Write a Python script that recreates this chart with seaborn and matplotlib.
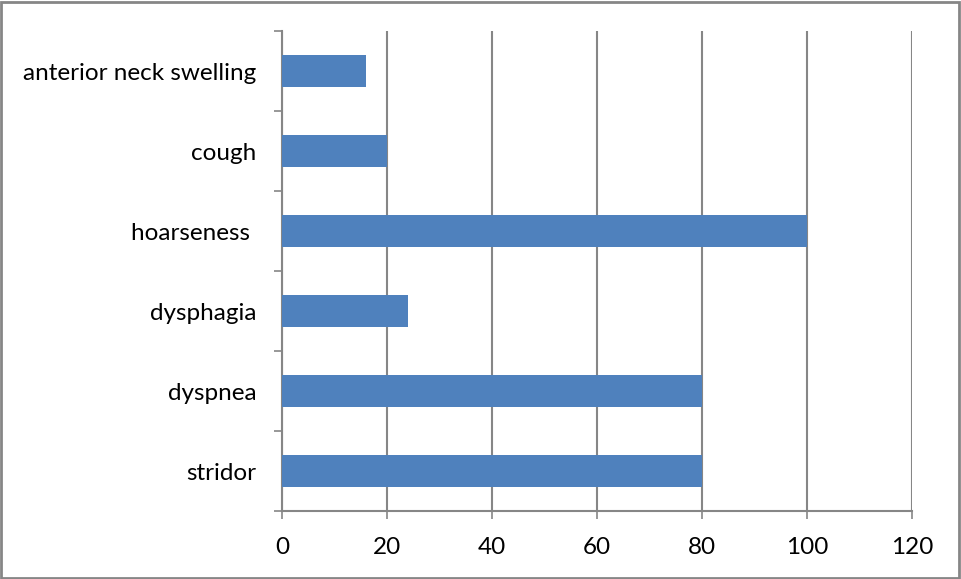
import matplotlib
matplotlib.use("Agg")
import matplotlib.pyplot as plt
import seaborn as sns
import pandas as pd
from matplotlib.patches import Rectangle

symptoms = ["anterior neck swelling", "cough", "hoarseness ", "dysphagia", "dyspnea", "stridor"]
values = [16, 20, 100, 24, 80, 80]
x_ticks = [0, 20, 40, 60, 80, 100, 120]

sns.set_theme(style="white")
plt.rcParams['font.family'] = ['Lato', 'DejaVu Sans']

df = pd.DataFrame({"symptom": symptoms, "value": values})

fig = plt.figure(figsize=(9.61, 5.79), dpi=100)
ax = fig.add_axes([282/961, 68/579, 630/961, 480/579])

sns.barplot(data=df, x="value", y="symptom", order=symptoms, orient="h",
            color="#4F81BD", saturation=1, width=0.4, ax=ax, zorder=3,
            linewidth=0, edgecolor="none")

ax.set_xlim(0, 120)
ax.set_ylim(len(symptoms) - 0.5, -0.5)
ax.set_xticks(x_ticks)
ax.set_xticklabels([str(v) for v in x_ticks])
ax.xaxis.grid(True, color="#868686", linewidth=1.5, zorder=0)
ax.yaxis.grid(False)
ax.set_axisbelow(True)

# category boundary ticks
ax.set_yticks([i - 0.5 for i in range(len(symptoms) + 1)])
ax.set_yticklabels([])
ax.set_yticks(list(range(len(symptoms))), minor=True)
ax.set_yticklabels(symptoms, minor=True)
ax.tick_params(axis="y", which="major", length=5.5, width=1.2, color="#868686", left=True)
ax.tick_params(axis="y", which="minor", length=0, pad=18.5, labelsize=17.5, labelcolor="black")
ax.tick_params(axis="x", which="major", length=5.5, width=1.2, color="#868686", bottom=True,
               pad=13.5, labelsize=17.5, labelcolor="black")

for s in ["top", "right"]:
    ax.spines[s].set_visible(False)
for s in ["left", "bottom"]:
    ax.spines[s].set_color("#868686")
    ax.spines[s].set_linewidth(1.5)

ax.set_xlabel("")
ax.set_ylabel("")

fig.patches.append(Rectangle((1/961, 1/579), 958/961, 576/579, transform=fig.transFigure,
                             fill=False, edgecolor="#868686", linewidth=2))

fig.savefig("out.png", dpi=100)
